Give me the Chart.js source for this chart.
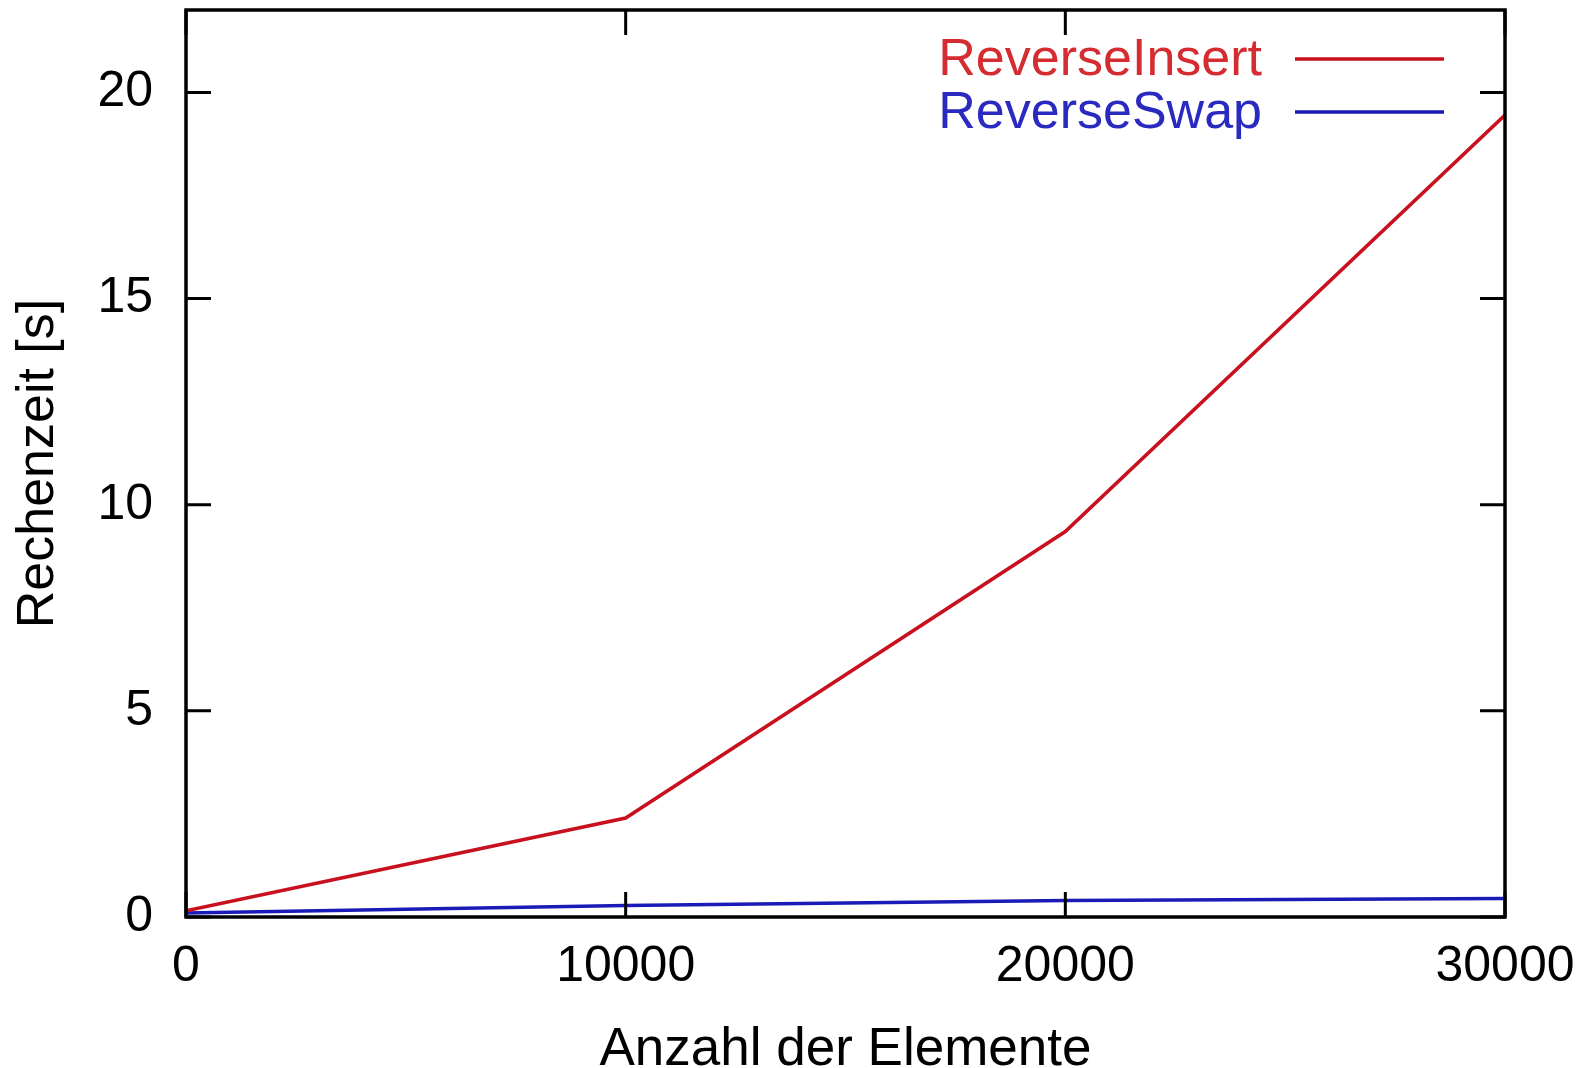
<!DOCTYPE html>
<html lang="de">
<head>
    <meta charset="UTF-8">
    <title>ReverseInsert vs ReverseSwap</title>
    <script src="https://cdn.jsdelivr.net/npm/chart.js"></script>
    <style>
        html, body { margin: 0; padding: 0; background: #ffffff; }
        #wrap { width: 1583px; height: 1068px; }
    </style>
</head>
<body>
    <div id="wrap"><canvas id="timeChart" width="1583" height="1068"></canvas></div>

    <script>
        // Data
        const elementCounts = [0, 10000, 20000, 30000];
        const insertTimes = [0.15, 2.4, 9.35, 19.45];
        const swapTimes = [0.1, 0.28, 0.4, 0.45];
        const seriesNames = ['ReverseInsert', 'ReverseSwap'];
        const xTickValues = [0, 10000, 20000, 30000];
        const yTickValues = [0, 5, 10, 15, 20];

        const FONT = 'Liberation Sans, Arial, Helvetica, sans-serif';

        const toPoints = (xs, ys) => xs.map((x, i) => ({ x: x, y: ys[i] }));

        // gnuplot style frame with inward ticks and a legend on the right
        const framePlugin = {
            id: 'frame',
            afterDatasetsDraw(chart) {
                const { ctx, chartArea: a, scales } = chart;
                const tick = 25;
                ctx.save();
                ctx.strokeStyle = '#000';
                ctx.lineWidth = 3.5;
                ctx.strokeRect(a.left, a.top, a.right - a.left, a.bottom - a.top);
                ctx.lineWidth = 3;
                ctx.beginPath();
                xTickValues.forEach(v => {
                    const px = scales.x.getPixelForValue(v);
                    ctx.moveTo(px, a.bottom); ctx.lineTo(px, a.bottom - tick);
                    ctx.moveTo(px, a.top); ctx.lineTo(px, a.top + tick);
                });
                yTickValues.forEach(v => {
                    const py = scales.y.getPixelForValue(v);
                    ctx.moveTo(a.left, py); ctx.lineTo(a.left + tick, py);
                    ctx.moveTo(a.right, py); ctx.lineTo(a.right - tick, py);
                });
                ctx.stroke();

                // legend: text then sample line
                ctx.font = '52px ' + FONT;
                ctx.textAlign = 'right';
                ctx.textBaseline = 'middle';
                chart.data.datasets.forEach((ds, i) => {
                    const y = 59 + i * 53;
                    ctx.fillStyle = ds.legendColor;
                    ctx.fillText(ds.label, 1262, y + 2);
                    ctx.strokeStyle = ds.borderColor;
                    ctx.lineWidth = 3.5;
                    ctx.beginPath();
                    ctx.moveTo(1295, y);
                    ctx.lineTo(1444, y);
                    ctx.stroke();
                });
                ctx.restore();
            }
        };

        const ctx = document.getElementById('timeChart').getContext('2d');
        new Chart(ctx, {
            type: 'line',
            data: {
                datasets: [{
                    label: seriesNames[0],
                    data: toPoints(elementCounts, insertTimes),
                    borderColor: '#c8101e',
                    legendColor: '#d42c30',
                    borderWidth: 3.5,
                    pointRadius: 0,
                    tension: 0
                }, {
                    label: seriesNames[1],
                    data: toPoints(elementCounts, swapTimes),
                    borderColor: '#1a1ab8',
                    legendColor: '#2a2ac0',
                    borderWidth: 3.5,
                    pointRadius: 0,
                    tension: 0
                }]
            },
            options: {
                responsive: false,
                animation: false,
                layout: { padding: { left: 0, top: 10, right: 78, bottom: 0 } },
                plugins: {
                    legend: { display: false },
                    tooltip: { enabled: false }
                },
                scales: {
                    x: {
                        type: 'linear',
                        min: 0,
                        max: 30000,
                        afterBuildTicks: s => { s.ticks = xTickValues.map(v => ({ value: v })); },
                        afterFit: s => { s.height = 151; s.paddingLeft = 0; s.paddingRight = 0; },
                        grid: { display: false, drawTicks: false },
                        border: { display: false },
                        ticks: {
                            color: '#000',
                            padding: 20,
                            maxRotation: 0,
                            font: { family: FONT, size: 50 },
                            callback: v => String(v)
                        },
                        title: {
                            display: true,
                            text: 'Anzahl der Elemente',
                            color: '#000',
                            font: { family: FONT, size: 53 },
                            padding: { top: 0, bottom: -14 }
                        }
                    },
                    y: {
                        type: 'linear',
                        min: 0,
                        max: 22,
                        afterBuildTicks: s => { s.ticks = yTickValues.map(v => ({ value: v })); },
                        afterFit: s => { s.width = 186; s.paddingTop = 0; s.paddingBottom = 0; },
                        grid: { display: false, drawTicks: false },
                        border: { display: false },
                        ticks: {
                            color: '#000',
                            padding: 33,
                            font: { family: FONT, size: 50 }
                        },
                        title: {
                            display: true,
                            text: 'Rechenzeit [s]',
                            color: '#000',
                            font: { family: FONT, size: 52 },
                            padding: { top: 7, bottom: 0 }
                        }
                    }
                }
            },
            plugins: [framePlugin]
        });
    </script>
</body>
</html>
